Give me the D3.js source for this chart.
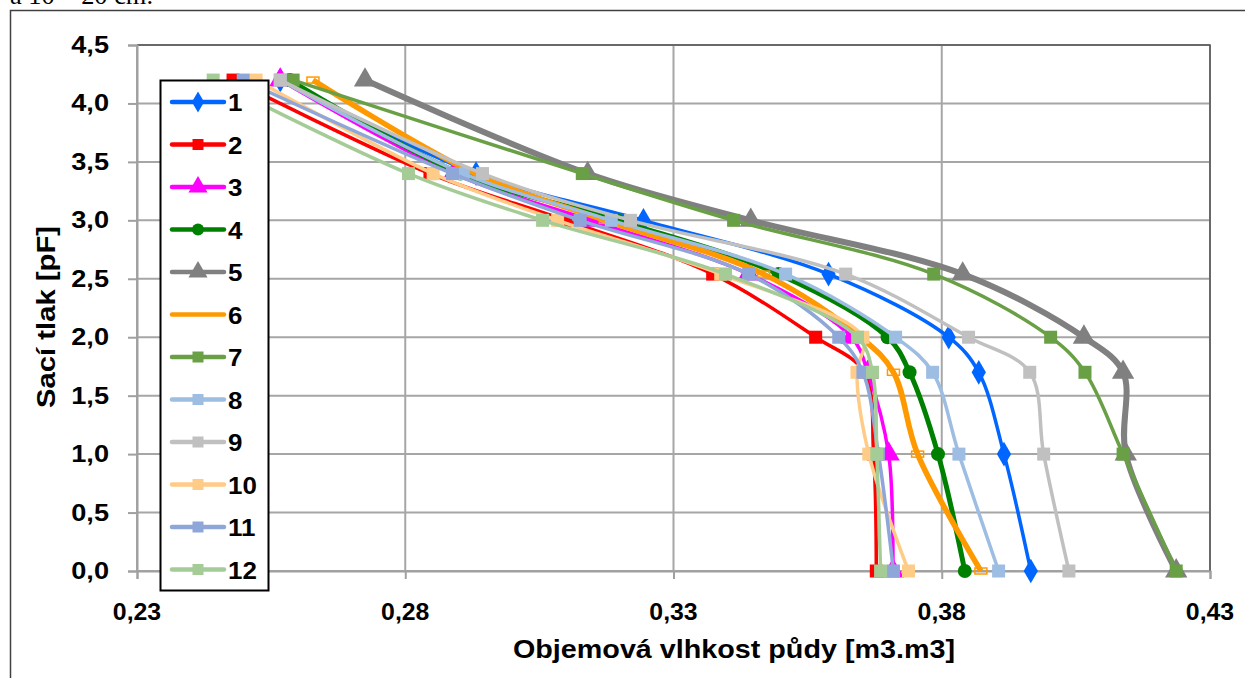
<!DOCTYPE html>
<html><head><meta charset="utf-8">
<script src="https://cdn.jsdelivr.net/npm/d3@7"></script>
<style>body{margin:0;background:#fff}svg{display:block}</style>
</head><body>
<svg id="c" width="1245" height="678"></svg>
<script>
const pfLevels = [4.2, 3.4, 3.0, 2.54, 2.0, 1.7, 1.0, 0.0];
const seriesNames = ["1","2","3","4","5","6","7","8","9","10","11","12"];
const s1  = [0.2567, 0.2932, 0.3244, 0.3589, 0.3813, 0.3869, 0.3916, 0.3966];
const s2  = [0.2479, 0.2846, 0.3099, 0.3373, 0.3565, 0.3655, 0.3673, 0.3678];
const s3  = [0.2567, 0.2890, 0.3145, 0.3440, 0.3632, 0.3662, 0.3701, 0.3709];
const s4  = [0.2585, 0.2903, 0.3195, 0.3496, 0.3699, 0.3740, 0.3793, 0.3843];
const s5  = [0.2725, 0.3140, 0.3444, 0.3839, 0.4065, 0.4138, 0.4143, 0.4237];
const s6  = [0.2628, 0.2930, 0.3173, 0.3468, 0.3649, 0.3710, 0.3755, 0.3873];
const s7  = [0.2591, 0.3130, 0.3412, 0.3785, 0.4003, 0.4067, 0.4138, 0.4237];
const s8  = [0.2567, 0.2908, 0.3184, 0.3509, 0.3714, 0.3783, 0.3832, 0.3906];
const s9  = [0.2567, 0.2944, 0.3220, 0.3621, 0.3850, 0.3964, 0.3990, 0.4037];
const s10 = [0.2522, 0.2852, 0.3084, 0.3388, 0.3653, 0.3642, 0.3664, 0.3738];
const s11 = [0.2498, 0.2888, 0.3126, 0.3440, 0.3608, 0.3653, 0.3682, 0.3710];
const s12 = [0.2442, 0.2806, 0.3056, 0.3397, 0.3643, 0.3671, 0.3679, 0.3686];
const seriesValues = [s1,s2,s3,s4,s5,s6,s7,s8,s9,s10,s11,s12];
const xTicks = [0.23, 0.28, 0.33, 0.38, 0.43];
const yTicks = [0,0.5,1,1.5,2,2.5,3,3.5,4,4.5];
const xTitle = "Objemová vlhkost půdy [m3.m3]";
const yTitle = "Sací tlak [pF]";
const caption = "a 10 – 20 cm.";

const colors = ["#0066ff","#ff0000","#ff00ff","#008000","#808080","#ff9900","#6aa045","#9dbde2","#c0c0c0","#ffcc88","#8fa6d8","#a5cc96"];
const markers = ["diamond","square","triangle","circle","triangle","hollow","square","square","square","square","square","square"];
const widths = [3.5,3.5,3.5,5,6,5.5,3.5,3.5,3.5,3.5,3.5,3.5];
const FONT = "Liberation Sans, Arial, sans-serif";

const svg = d3.select("#c");
const L=137, R=1210, T=45, B=571;
const x = d3.scaleLinear().domain([0.23,0.43]).range([L,R]);
const y = d3.scaleLinear().domain([0,4.5]).range([B,T]);

function stretch(sel, factor){
  sel.each(function(){
    const len = this.getComputedTextLength();
    d3.select(this).attr("textLength", len*factor).attr("lengthAdjust","spacingAndGlyphs");
  });
}

// outer chart border
svg.append("path").attr("d","M10.5,678 V10.5 H1245").attr("fill","none").attr("stroke","#404040").attr("stroke-width",1.5);
svg.append("text").attr("x",10).attr("y",4).attr("font-family","Liberation Serif, serif").attr("font-size",26).attr("fill","#000")
  .attr("textLength",143).attr("lengthAdjust","spacingAndGlyphs").text(caption);

// gridlines
svg.append("g").selectAll("line").data(yTicks).join("line")
  .attr("x1",L).attr("x2",R).attr("y1",d=>y(d)).attr("y2",d=>y(d))
  .attr("stroke","#a6a6a6").attr("stroke-width",2);
svg.append("g").selectAll("line").data(xTicks).join("line")
  .attr("y1",T).attr("y2",B).attr("x1",d=>x(d)).attr("x2",d=>x(d))
  .attr("stroke","#a6a6a6").attr("stroke-width",2);
svg.append("path").attr("d",`M${L},${T} H${R} V${B}`).attr("fill","none").attr("stroke","#555").attr("stroke-width",1.5);

// axes (lines and ticks)
const gy = svg.append("g").attr("transform",`translate(${L},0)`).call(d3.axisLeft(y).tickValues(yTicks).tickSize(9).tickFormat(""));
gy.select(".domain").attr("stroke","#a0a0a0").attr("stroke-width",2);
gy.selectAll(".tick line").attr("stroke","#a0a0a0").attr("stroke-width",2);
const gx = svg.append("g").attr("transform",`translate(0,${B})`).call(d3.axisBottom(x).tickValues(xTicks).tickSize(8).tickFormat(""));
gx.select(".domain").attr("stroke","#a0a0a0").attr("stroke-width",2);
gx.selectAll(".tick line").attr("stroke","#a0a0a0").attr("stroke-width",2);

// tick labels
const yl = svg.append("g").selectAll("text").data(yTicks).join("text")
  .attr("x",109).attr("y",d=>y(d)+8).attr("text-anchor","end")
  .attr("font-family",FONT).attr("font-weight","bold").attr("font-size",23).attr("fill","#000")
  .text(d=>d3.format(".1f")(d).replace(".",","));
stretch(yl,1.18);
const xl = svg.append("g").selectAll("text").data(xTicks).join("text")
  .attr("x",d=>x(d)).attr("y",620).attr("text-anchor","middle")
  .attr("font-family",FONT).attr("font-weight","bold").attr("font-size",23).attr("fill","#000")
  .text(d=>d3.format(".2f")(d).replace(".",","));
stretch(xl,1.08);

const xt = svg.append("text").attr("x",734).attr("y",658).attr("text-anchor","middle")
  .attr("font-family",FONT).attr("font-weight","bold").attr("font-size",25).text(xTitle);
xt.attr("textLength",442).attr("lengthAdjust","spacingAndGlyphs");
const yt = svg.append("text").attr("transform","translate(55,317) rotate(-90)").attr("text-anchor","middle")
  .attr("font-family",FONT).attr("font-weight","bold").attr("font-size",25).text(yTitle);
yt.attr("textLength",182).attr("lengthAdjust","spacingAndGlyphs");

// series
const line = d3.line().x(d=>x(d[0])).y(d=>y(d[1])).curve(d3.curveCatmullRom.alpha(0.5));
function drawMarker(g, type, color, cx, cy, size){
  if(type==="square") g.append("rect").attr("x",cx-size/2).attr("y",cy-size/2).attr("width",size).attr("height",size).attr("fill",color);
  else if(type==="diamond") g.append("path").attr("d",d3.symbol(d3.symbolDiamond, size*size*0.9)()).attr("transform",`translate(${cx},${cy})`).attr("fill",color);
  else if(type==="triangle") g.append("path").attr("d",d3.symbol(d3.symbolTriangle, size*size*1.1)()).attr("transform",`translate(${cx},${cy})`).attr("fill",color);
  else if(type==="circle") g.append("circle").attr("cx",cx).attr("cy",cy).attr("r",size/2).attr("fill",color);
  else if(type==="hollow") g.append("rect").attr("x",cx-size/2).attr("y",cy-3).attr("width",size).attr("height",6).attr("fill","none").attr("stroke",color).attr("stroke-width",1.5);
}
const gs = svg.append("g");
seriesValues.forEach((vals,i)=>{
  const pts = vals.map((v,j)=>[v,pfLevels[j]]);
  const g = gs.append("g");
  g.append("path").attr("d",line(pts)).attr("fill","none").attr("stroke",colors[i]).attr("stroke-width",widths[i]).attr("stroke-linejoin","round");
  const sz = markers[i]==="square"?13:(markers[i]==="hollow"?12:14);
  pts.forEach(p=>drawMarker(g, markers[i], colors[i], x(p[0]), y(p[1]), sz));
});

// legend
const lg = svg.append("g");
lg.append("rect").attr("x",160.5).attr("y",80.5).attr("width",108).attr("height",510).attr("fill","#fff").attr("stroke","#000").attr("stroke-width",2);
seriesNames.forEach((n,i)=>{
  const yy = 102 + i*42.5;
  lg.append("line").attr("x1",172).attr("x2",224).attr("y1",yy).attr("y2",yy).attr("stroke",colors[i]).attr("stroke-width",4.5).attr("stroke-linecap","round");
  if(markers[i]!=="hollow") drawMarker(lg, markers[i], colors[i], 198, yy, markers[i]==="square"?11:12);
  const t = lg.append("text").attr("x",228).attr("y",yy+9).attr("font-family",FONT).attr("font-weight","bold").attr("font-size",24).text(n);
  stretch(t,1.08);
});
</script>
</body></html>
